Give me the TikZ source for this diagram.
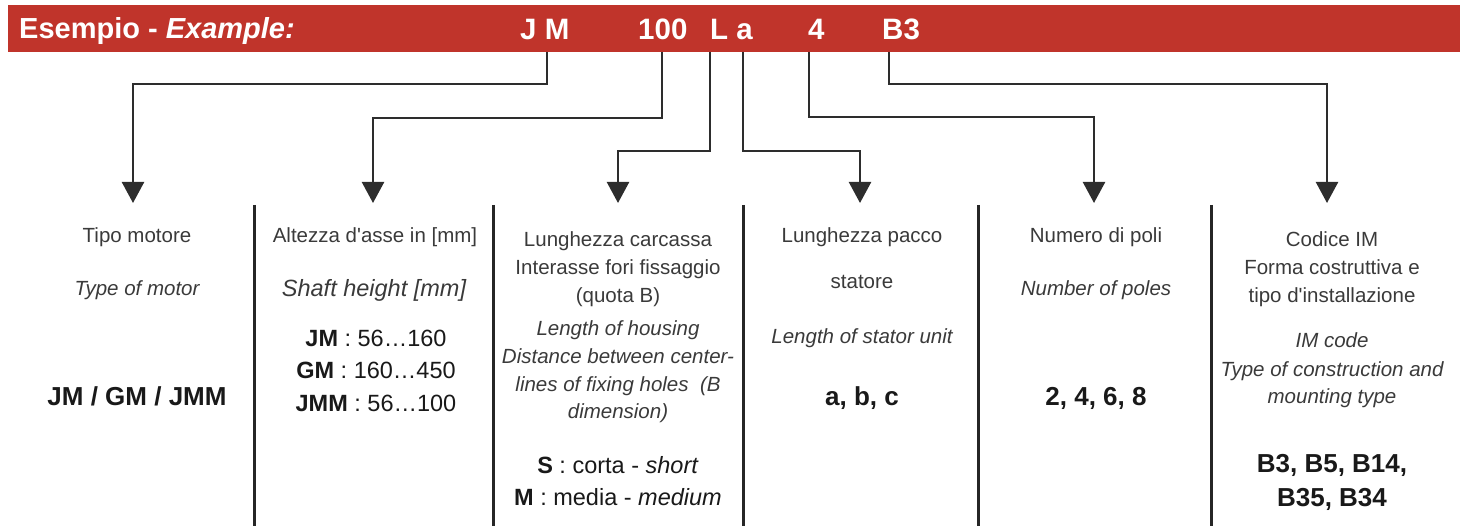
\documentclass[tikz,border=0pt]{standalone}
\usepackage{fontspec}
\setmainfont{Liberation Sans}
\usetikzlibrary{arrows.meta}
\definecolor{banner}{RGB}{192,52,43}
\definecolor{txt}{RGB}{58,58,58}
\definecolor{dark}{RGB}{25,25,25}
\definecolor{conn}{RGB}{45,45,45}
\begin{document}
\begin{tikzpicture}[x=1pt,y=-1pt,
 reg/.style={anchor=base,inner sep=0pt,text=txt,font=\fontsize{20.5}{24}\selectfont},
 ita/.style={anchor=base,inner sep=0pt,text=txt,font=\fontsize{20.5}{24}\selectfont\itshape},
 itb/.style={anchor=base,inner sep=0pt,text=txt,font=\fontsize{23.5}{28}\selectfont\itshape},
 big/.style={anchor=base,inner sep=0pt,text=dark,font=\fontsize{26}{30}\selectfont\bfseries},
 mid/.style={anchor=base,inner sep=0pt,text=dark,font=\fontsize{23.5}{28}\selectfont},
 code/.style={anchor=base west,inner sep=0pt,text=white,font=\fontsize{29.5}{34}\selectfont\bfseries},
 connector/.style={draw=conn,line width=2.4pt,-{Triangle[width=22pt,length=21pt]}},
 sep/.style={draw=black!85,line width=3pt}]
\useasboundingbox (0,0) rectangle (1466,526);
% banner
\fill[banner] (8,5) rectangle (1460,52);
\node[code,font=\fontsize{29}{34}\selectfont\bfseries] (title) at (19,39) {Esempio - \textit{Example:}};
\node[code] (cJM) at (520,40) {J M};
\node[code] (c100) at (638,40) {100};
\node[code] (cLa) at (710,40) {L a};
\node[code] (c4) at (808,40) {4};
\node[code] (cB3) at (882,40) {B3};
% connector starts and ends
\coordinate (s1) at (547,52);
\coordinate (s2) at (662,52);
\coordinate (s3) at (710,52);
\coordinate (s4) at (743,52);
\coordinate (s5) at (809,52);
\coordinate (s6) at (889,52);
\coordinate (t1) at (133,203);
\coordinate (t2) at (373,203);
\coordinate (t3) at (618,203);
\coordinate (t4) at (860,203);
\coordinate (t5) at (1094,203);
\coordinate (t6) at (1327,203);
\draw[connector] (s1) -- ++(0,32) -| (t1);
\draw[connector] (s2) -- ++(0,66) -| (t2);
\draw[connector] (s3) -- ++(0,99) -| (t3);
\draw[connector] (s4) -- ++(0,99) -| (t4);
\draw[connector] (s5) -- ++(0,65) -| (t5);
\draw[connector] (s6) -- ++(0,32) -| (t6);
% separators
\foreach \x in {254,493,743,978,1211} \draw[sep] (\x,205) -- (\x,526);
% column 1
\node[reg] (a1) at (137,243) {Tipo motore};
\node[ita] (a2) at (137,296) {Type of motor};
\node[big] (a3) at (137,405) {JM / GM / JMM};
% column 2
\node[reg] (b1) at (375,243) {Altezza d\textquotesingle asse in [mm]};
\node[itb] (b2) at (374,297) {Shaft height [mm]};
\node[mid] (b3) at (376,346) {\textbf{JM} : 56…160};
\node[mid] (b4) at (376,378) {\textbf{GM} : 160…450};
\node[mid] (b5) at (376,411) {\textbf{JMM} : 56…100};
% column 3
\node[reg] (c1) at (618,247) {Lunghezza carcassa};
\node[reg] (c2) at (618,275) {Interasse fori fissaggio};
\node[reg] (c3) at (618,303) {(quota B)};
\node[ita] (c5) at (618,335) {Length of housing};
\node[ita] (c6) at (618,363) {Distance between center-};
\node[ita] (c7) at (618,391) {lines of fixing holes\ \ (B};
\node[ita] (c8) at (618,418) {dimension)};
\node[mid] (c9) at (618,473) {\textbf{S} : corta - \textit{short}};
\node[mid] (c10) at (618,505) {\textbf{M} : media - \textit{medium}};
% column 4
\node[reg] (d1) at (862,243) {Lunghezza pacco};
\node[reg] (d2) at (862,289) {statore};
\node[ita] (d3) at (862,343) {Length of stator unit};
\node[big] (d4) at (862,405) {a, b, c};
% column 5
\node[reg] (e1) at (1096,243) {Numero di poli};
\node[ita] (e2) at (1096,296) {Number of poles};
\node[big] (e3) at (1096,405) {2, 4, 6, 8};
% column 6
\node[reg] (f1) at (1332,247) {Codice IM};
\node[reg] (f2) at (1332,275) {Forma costruttiva e};
\node[reg] (f3) at (1332,303) {tipo d\textquotesingle installazione};
\node[ita] (f4) at (1332,348) {IM code};
\node[ita] (f5) at (1332,376) {Type of construction and};
\node[ita] (f6) at (1332,403) {mounting type};
\node[big] (f7) at (1332,472) {B3, B5, B14,};
\node[big] (f8) at (1332,506) {B35, B34};
\end{tikzpicture}
\end{document}
